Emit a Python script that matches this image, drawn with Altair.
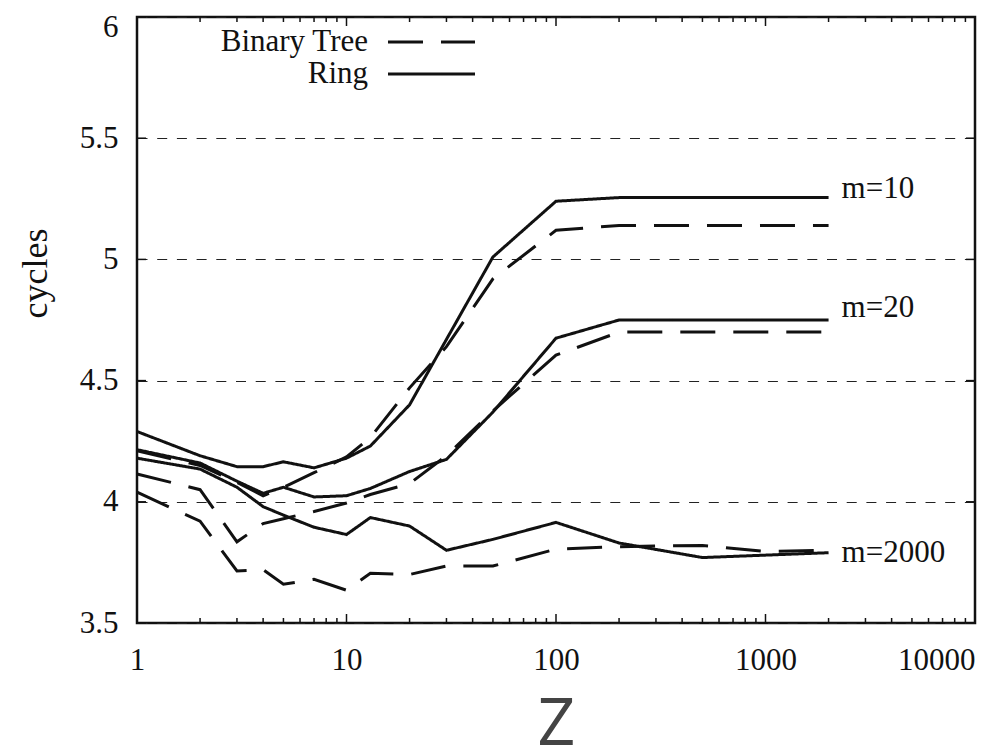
import altair as alt
import pandas as pd

SERIF = "Liberation Serif"
INK = "#111111"

# ---- data ----
Z = [1, 2, 3, 4, 5, 7, 10, 13, 20, 30, 50, 100, 200, 500, 1000, 2000]

ring_m10 = [4.29, 4.19, 4.145, 4.145, 4.165, 4.14, 4.18, 4.23, 4.40, 4.67, 5.01, 5.24, 5.255, 5.255, 5.255, 5.255]
bt_m10 = [4.21, 4.15, 4.08, 4.025, 4.06, 4.12, 4.185, 4.265, 4.47, 4.64, 4.92, 5.12, 5.14, 5.14, 5.14, 5.14]
ring_m20 = [4.215, 4.16, 4.085, 4.035, 4.06, 4.02, 4.025, 4.055, 4.125, 4.175, 4.37, 4.675, 4.75, 4.75, 4.75, 4.75]
bt_m20 = [4.115, 4.05, 3.835, 3.91, 3.93, 3.96, 3.995, 4.03, 4.075, 4.19, 4.375, 4.605, 4.70, 4.70, 4.70, 4.70]
ring_m2000 = [4.18, 4.135, 4.06, 3.98, 3.945, 3.895, 3.865, 3.935, 3.90, 3.80, 3.845, 3.915, 3.83, 3.77, 3.78, 3.79]
bt_m2000 = [4.04, 3.92, 3.715, 3.72, 3.66, 3.68, 3.635, 3.705, 3.70, 3.735, 3.735, 3.805, 3.815, 3.82, 3.795, 3.80]

algorithms = ["Binary Tree", "Ring"]
m_labels = ["m=10", "m=20", "m=2000"]
m_label_x = [2000, 2000, 2000]
m_label_y = [5.29, 4.80, 3.79]

x_tick_labels = [1, 10, 100, 1000, 10000]
x_minor = [2, 3, 4, 5, 6, 7, 8, 9,
           20, 30, 40, 50, 60, 70, 80, 90,
           200, 300, 400, 500, 600, 700, 800, 900,
           2000, 3000, 4000, 5000, 6000, 7000, 8000, 9000]
y_tick_labels = [3.5, 4, 4.5, 5, 5.5, 6]

series = [
    ("m=10", "Ring", ring_m10), ("m=10", "Binary Tree", bt_m10),
    ("m=20", "Ring", ring_m20), ("m=20", "Binary Tree", bt_m20),
    ("m=2000", "Ring", ring_m2000), ("m=2000", "Binary Tree", bt_m2000),
]
rows = []
for m, alg, vals in series:
    for z, v in zip(Z, vals):
        rows.append({"z": z, "cycles": v, "m": m, "alg": alg, "series": m + " " + alg})
df = pd.DataFrame(rows)

W, H = 838, 606
xscale = alt.Scale(type="log", domain=[1, 10000], nice=False)
yscale = alt.Scale(domain=[3.5, 6], nice=False, zero=False)

lines = alt.Chart(df).mark_line(strokeWidth=3, color=INK, strokeCap="butt").encode(
    x=alt.X("z:Q", scale=xscale, axis=alt.Axis(
        values=x_tick_labels, format="d", ticks=False, domain=False, grid=False,
        labelFont=SERIF, labelFontSize=31, labelColor=INK, labelPadding=22,
        labelOverlap=False, labelBound=False, labelFlush=False,
        labelAlign={"condition": {"test": "datum.value == 10000", "value": "right"}, "value": "center"},
        title="Z", titleFont="Open Sans", titleFontSize=66, titleFontWeight="normal",
        titleColor="#444444", titleBaseline="alphabetic", titleY=121, titleX=W / 2)),
    y=alt.Y("cycles:Q", scale=yscale, axis=alt.Axis(
        values=y_tick_labels, format="~g", ticks=False, domain=False,
        grid=True, gridDash=[10, 9.7], gridColor="#222222", gridWidth=1.2,
        labelFont=SERIF, labelFontSize=31, labelColor=INK, labelPadding=19,
        labelOverlap=False, labelFlush=False,
        labelOffset={"condition": {"test": "datum.value == 6", "value": 10}, "value": 0},
        title="cycles", titleFont=SERIF, titleFontSize=36, titleFontWeight="normal",
        titleColor=INK, titleAngle=270, titleBaseline="alphabetic", titleAlign="center",
        titleX=-91, titleY=256)),
    strokeDash=alt.StrokeDash("alg:N", scale=alt.Scale(domain=algorithms, range=[[35, 18], [1, 0]]),
        legend=alt.Legend(title=None, orient="none", legendX=279, legendY=9.5,
                          symbolType="M-10,0H10", symbolSize=75.7, symbolStrokeWidth=3,
                          symbolStrokeColor=INK, labelFont=SERIF, labelFontSize=31,
                          labelColor=INK, labelAlign="right", labelOffset={"expr": "-79"},
                          symbolOffset=0, rowPadding=0, padding=0)),
    detail="series:N",
)

def x_ticks(vals, length):
    d = pd.DataFrame({"v": vals})
    bottom = alt.Chart(d).mark_rule(color=INK, strokeWidth=1.5).encode(
        x=alt.X("v:Q", scale=xscale), y=alt.value(H), y2=alt.value(H - length))
    top = alt.Chart(d).mark_rule(color=INK, strokeWidth=1.5).encode(
        x=alt.X("v:Q", scale=xscale), y=alt.value(0), y2=alt.value(length))
    return [bottom, top]

yd = pd.DataFrame({"v": y_tick_labels})
y_left = alt.Chart(yd).mark_rule(color=INK, strokeWidth=1.5).encode(
    y=alt.Y("v:Q", scale=yscale), x=alt.value(0), x2=alt.value(9))
y_right = alt.Chart(yd).mark_rule(color=INK, strokeWidth=1.5).encode(
    y=alt.Y("v:Q", scale=yscale), x=alt.value(W), x2=alt.value(W - 9))

ann = alt.Chart(pd.DataFrame({"label": m_labels, "x": m_label_x, "y": m_label_y})).mark_text(
    align="left", baseline="middle", dx=13, font=SERIF, fontSize=31, color=INK).encode(
    x=alt.X("x:Q", scale=xscale), y=alt.Y("y:Q", scale=yscale), text="label:N")

chart = alt.layer(lines, *x_ticks(x_tick_labels, 9), *x_ticks(x_minor, 5), y_left, y_right, ann).properties(
    width=W, height=H,
    autosize=alt.AutoSizeParams(type="none"),
    padding={"left": 129, "top": 9, "right": 15, "bottom": 128},
).configure_view(stroke=INK, strokeWidth=2.5)

chart.save("out.html", embed_options={"renderer": "svg", "actions": False})
